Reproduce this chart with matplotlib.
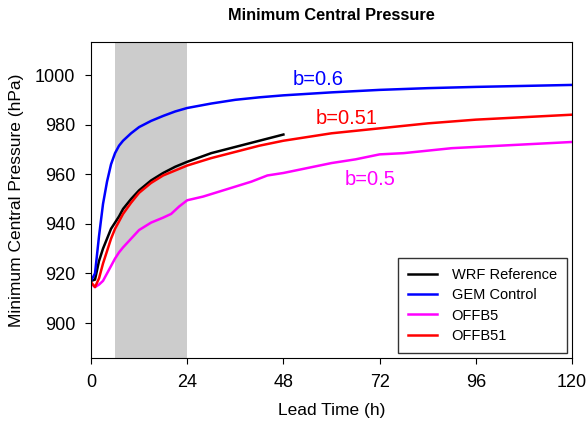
import matplotlib.pyplot as plt
import numpy as np

plt.rcParams['font.family'] = ['Liberation Sans', 'DejaVu Sans']

# Data
t_gem = [0, 1, 2, 3, 4, 5, 6, 7, 8, 10, 12, 15, 18, 21, 24, 30, 36, 42, 48, 60, 72, 84, 96, 108, 120]
gem = [917, 920, 935, 948, 957, 964, 968.5, 971.5, 973.5, 976.5, 979, 981.5, 983.5, 985.3, 986.7,
       988.5, 990, 991, 991.8, 993, 994, 994.7, 995.2, 995.6, 996]

t_b51 = [0, 1, 2, 3, 4, 5, 6, 7, 8, 10, 12, 15, 18, 21, 24, 30, 36, 42, 48, 60, 72, 84, 96, 108, 120]
offb51 = [916.5, 914.5, 918, 924, 929, 934, 938, 941, 944, 948.5, 952.5, 956.5, 959.5, 961.5, 963.5,
          966.5, 969, 971.5, 973.5, 976.5, 978.5, 980.5, 982, 983, 984]

t_wrf = [0, 1, 2, 3, 4, 5, 6, 7, 8, 10, 12, 15, 18, 21, 24, 30, 36, 42, 48]
wrf = [917, 917.5, 925, 930, 934, 938, 940.5, 943, 946, 950, 953.5, 957.5, 960.5, 963, 965,
       968.5, 971, 973.5, 976]

t_b5 = [0, 1, 2, 3, 4, 5, 6, 7, 8, 10, 12, 15, 18, 20, 22, 24, 28, 32, 36, 40, 44, 48, 54, 60,
        66, 72, 78, 84, 90, 96, 102, 108, 114, 120]
offb5 = [916, 914.5, 915.5, 917, 920, 923, 926, 928.5, 930.5, 934, 937.5, 940.5, 942.5, 944, 947,
         949.5, 951, 953, 955, 957, 959.5, 960.5, 962.5, 964.5, 966, 968, 968.5, 969.5, 970.5,
         971, 971.5, 972, 972.5, 973]

shade = (6, 24)

fig = plt.figure(figsize=(5.87, 4.21), dpi=100)
ax = fig.add_axes([0.155, 0.1496, 0.8195, 0.7506])

ax.axvspan(shade[0], shade[1], color='#cccccc', lw=0, zorder=0)
ax.plot(t_wrf, wrf, color='black', lw=1.8, label='WRF Reference')
ax.plot(t_gem, gem, color='#0000ff', lw=1.8, label='GEM Control')
ax.plot(t_b5, offb5, color='#ff00ff', lw=1.8, label='OFFB5')
ax.plot(t_b51, offb51, color='#ff0000', lw=1.8, label='OFFB51')

ax.text(56.6, 995.8, 'b=0.6', color='#0000ff', fontsize=14.5, ha='center', va='baseline')
ax.text(63.8, 980.4, 'b=0.51', color='#ff0000', fontsize=14.5, ha='center', va='baseline')
ax.text(69.6, 955.5, 'b=0.5', color='#ff00ff', fontsize=14.5, ha='center', va='baseline')

ax.set_xlim(0, 120)
ax.set_ylim(885.9, 1013.3)
ax.set_xticks([0, 24, 48, 72, 96, 120])
ax.set_yticks([900, 920, 940, 960, 980, 1000])
ax.tick_params(direction='out', length=4.5, labelsize=13, pad=7)
ax.set_xlabel('Lead Time (h)', fontsize=12.5, labelpad=9)
ax.set_ylabel('Minimum Central Pressure (hPa)', fontsize=12.5, labelpad=8)
ax.set_title('Minimum Central Pressure', fontsize=11.8, fontweight='bold', pad=16)

leg = ax.legend(loc='lower right', fontsize=10.5, frameon=True, fancybox=False,
                edgecolor='black', handlelength=2.0, handletextpad=1.0, borderpad=0.7,
                labelspacing=0.42, borderaxespad=0.35)
leg.get_frame().set_linewidth(1.0)

plt.savefig('out.png', dpi=100)
